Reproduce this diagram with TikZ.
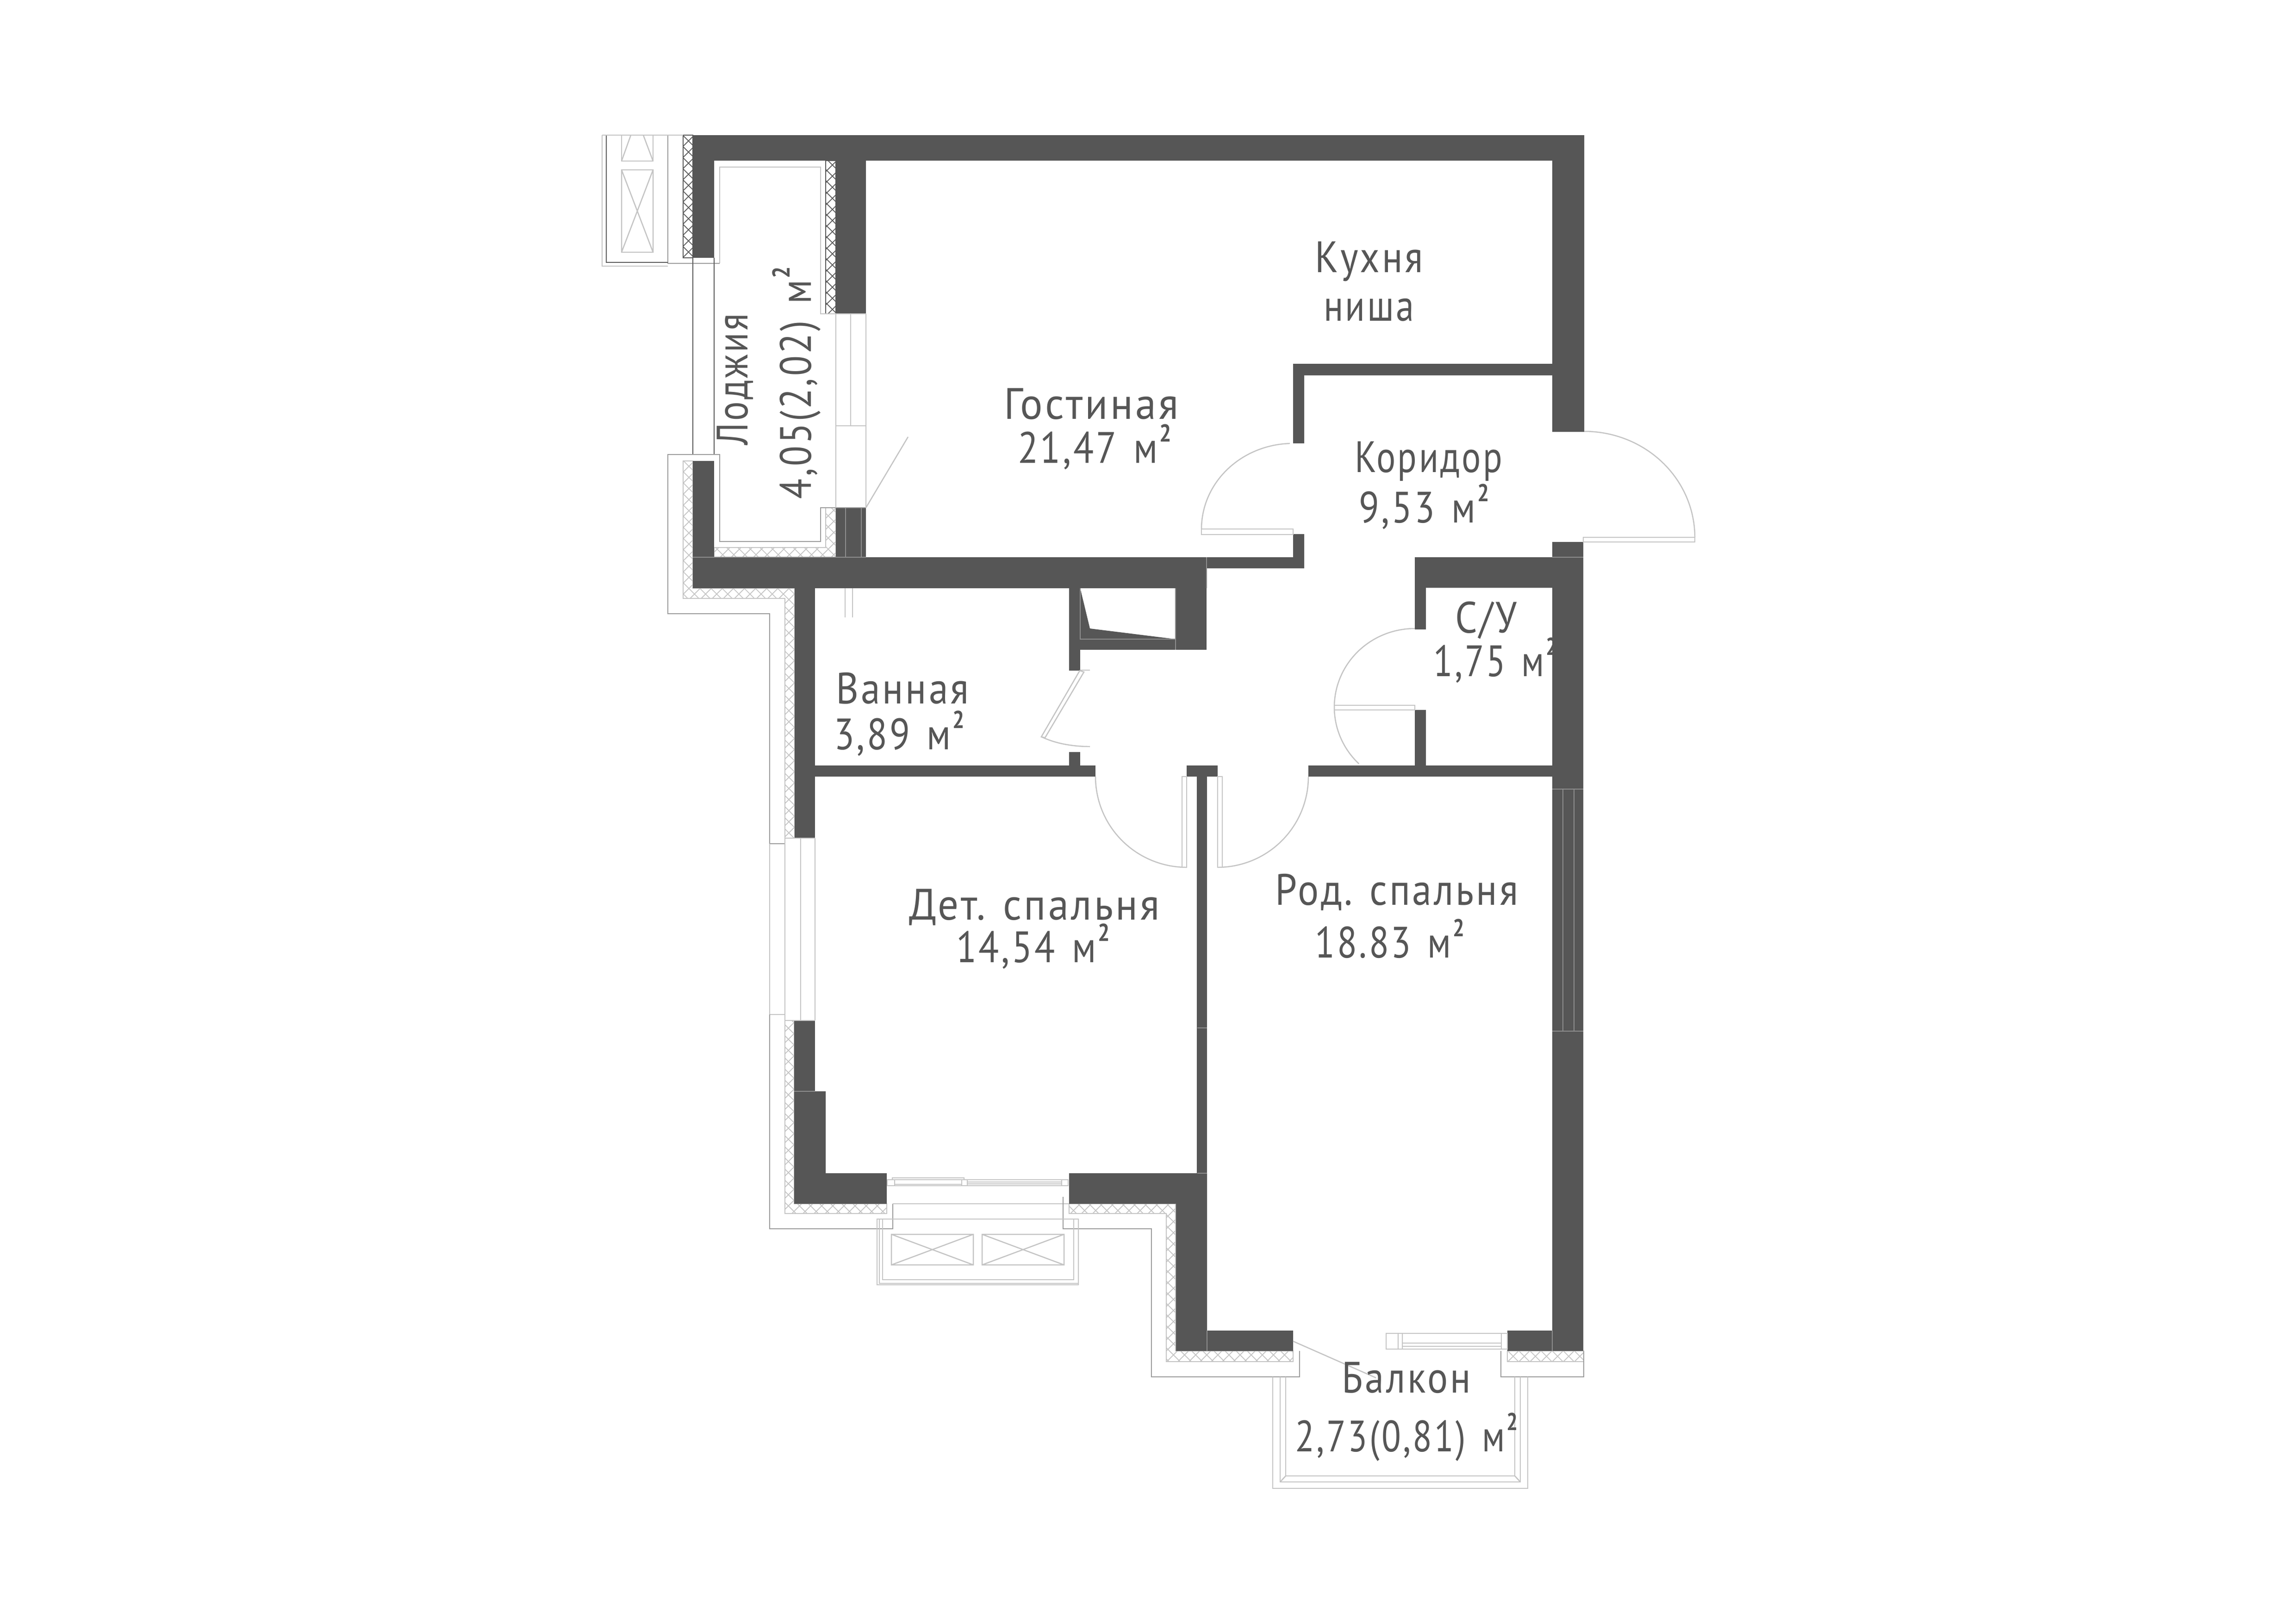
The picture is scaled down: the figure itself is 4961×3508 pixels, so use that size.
\documentclass[tikz,border=0pt]{standalone}
\usepackage{graphicx}
\usepackage{fontspec}
\setmainfont{PT Sans}[FakeStretch=0.88,LetterSpace=5]
\definecolor{wallc}{HTML}{565656}
\definecolor{seam}{HTML}{8E8E8E}
\definecolor{lite}{HTML}{C4C4C4}
\definecolor{midg}{HTML}{9A9A9A}
\definecolor{darkl}{HTML}{5A5A5A}
\tikzset{
  wall/.style={fill=wallc,draw=none},
  seamline/.style={draw=seam,line width=0.6pt},
  lite line/.style={draw=lite,line width=0.7pt},
  mid line/.style={draw=midg,line width=0.8pt},
  dark line/.style={draw=darkl,line width=0.8pt},
  lbl/.style={anchor=base,inner sep=0pt,text=wallc,font=\fontsize{27}{29}\selectfont},
}
\newcommand\msq{\hspace{0.4em}м\hspace{0.04em}\raisebox{13pt}{\fontsize{15}{15}\selectfont\bfseries 2}}
\newcommand\fitw[2]{\resizebox{#1\dimexpr 0.01cm\relax}{\height}{#2}}
\newcommand\hatchfill[6]{%
  \begin{scope}
    \clip #6;
    \pgfmathtruncatemacro\hs{#2-(#5-#3)}
    \pgfmathtruncatemacro\hn{\hs+24}
    \foreach \i in {\hs,\hn,...,#4}{
      \draw[#1,line width=0.5pt] (\i,#3)--({\i+#5-#3},#5);
      \draw[#1,line width=0.5pt] ({\i+#5-#3},#3)--(\i,#5);
    }
  \end{scope}
  \draw[#1,line width=0.6pt] #6;
}
\newcommand\crossbox[4]{%
  \draw[lite line] (#1,#2) rectangle (#3,#4) (#1,#2)--(#3,#4) (#1,#4)--(#3,#2);
}
\newcommand\doorarc[6]{%
  \draw[lite line] plot[domain=#5:#6,samples=40,smooth] ({#1+#3*cos(\x)},{#2+#4*sin(\x)});
}
\begin{document}
\begin{tikzpicture}[x=0.01cm,y=-0.01cm]
\useasboundingbox (0,0) rectangle (4961,3508);
\fill[white] (0,0) rectangle (4961,3508);

% ---- hatching (insulation)
\hatchfill{darkl}{1476}{292}{1497}{557}{(1476,292)--(1497,292)--(1497,557)--(1476,557)--cycle}
\hatchfill{darkl}{1784}{347}{1806}{678}{(1784,347)--(1806,347)--(1806,678)--(1784,678)--cycle}
\hatchfill{lite}{1476}{996}{1717}{1811}{(1476,996)--(1497,996)--(1497,1271)--(1717,1271)--(1717,1811)--(1696,1811)--(1696,1293)--(1476,1293)--cycle}
\hatchfill{lite}{1543}{1097}{1806}{1204}{(1543,1183)--(1784,1183)--(1784,1097)--(1806,1097)--(1806,1204)--(1543,1204)--cycle}
\hatchfill{lite}{1696}{2205}{1916}{2622}{(1696,2205)--(1716,2205)--(1716,2601)--(1916,2601)--(1916,2622)--(1696,2622)--cycle}
\hatchfill{lite}{2310}{2601}{2794}{2942}{(2310,2601)--(2540,2601)--(2540,2919)--(2794,2919)--(2794,2942)--(2520,2942)--(2520,2622)--(2310,2622)--cycle}
\hatchfill{lite}{3257}{2919}{3422}{2942}{(3257,2919)--(3422,2919)--(3422,2942)--(3257,2942)--cycle}

% ---- walls
\fill[wall] (1497,292)--(3423,292)--(3423,933)--(3354,933)--(3354,347)--(1871,347)--(1871,678)--(1806,678)--(1806,347)--(1543,347)--(1543,557)--(1497,557)--cycle;
\fill[wall] (2794,786) rectangle (3354,811);
\fill[wall] (2794,811) rectangle (2818,958);
\fill[wall] (2794,1154) rectangle (2818,1228);
\fill[wall] (2607,1204) rectangle (2818,1228);
\fill[wall] (1497,1204) rectangle (2607,1271);
\fill[wall] (1497,996) rectangle (1543,1204);
\fill[wall] (1806,1097) rectangle (1871,1204);
\fill[wall] (1717,1271) rectangle (1761,1811);
\fill[wall] (2540,1271) rectangle (2607,1404);
\fill[wall] (2310,1271) rectangle (2334,1449);
\fill[wall] (2310,1381) rectangle (2540,1404);
\fill[wall] (2334,1271)--(2355,1358)--(2540,1381)--(2334,1381)--cycle;
\fill[wall] (2310,1625) rectangle (2334,1655);
\fill[wall] (1761,1654) rectangle (2367,1678);
\fill[wall] (2564,1654) rectangle (2631,1678);
\fill[wall] (2586,1678) rectangle (2608,2535);
\fill[wall] (2827,1654) rectangle (3354,1678);
\fill[wall] (3354,1171) rectangle (3421,1204);
\fill[wall] (3057,1204) rectangle (3421,1270);
\fill[wall] (3354,1270) rectangle (3421,2919);
\fill[wall] (3057,1270) rectangle (3081,1360);
\fill[wall] (3057,1534) rectangle (3081,1654);
\fill[wall] (1716,2205) rectangle (1761,2358);
\fill[wall] (1716,2358)--(1784,2358)--(1784,2535)--(1916,2535)--(1916,2601)--(1716,2601)--cycle;
\fill[wall] (2310,2535)--(2608,2535)--(2608,2875)--(2794,2875)--(2794,2919)--(2541,2919)--(2541,2601)--(2310,2601)--cycle;
\fill[wall] (3257,2875) rectangle (3354,2919);

% ---- seams on the walls
\draw[seamline] (1827,1097)--(1827,1204) (1861,1097)--(1861,1204);
\draw[seamline] (1497,1204)--(1871,1204);
\draw[seamline] (2334,1271)--(2334,1381)--(2540,1381)--(2540,1404);
\draw[seamline] (2540,1271)--(2540,1381) (2607,1204)--(2607,1271);
\draw[seamline] (3377,1705)--(3377,2228) (3401,1705)--(3401,2228) (3354,1705)--(3421,1705) (3354,2228)--(3421,2228);
\draw[seamline] (3354,1204)--(3421,1204) (2587,2221)--(2608,2221) (2587,2535)--(2608,2535);
\draw[seamline] (1716,2358)--(1761,2358) (2608,2875)--(2608,2919) (3354,2875)--(3354,2919);

% ---- loggia
\draw[lite line] (1555,569)--(1555,361)--(1773,361)--(1773,678)--(1806,678);
\draw[mid line] (1443,292)--(1443,569)--(1555,569);
\draw[dark line] (1497,557)--(1497,982) (1543,557)--(1543,982);
\draw[mid line] (1443,1327)--(1443,982)--(1555,982)--(1555,1170)--(1773,1170)--(1773,1097)--(1871,1097);
\draw[lite line] (1806,678)--(1806,1097) (1871,678)--(1871,1097) (1838,678)--(1838,920) (1806,920)--(1871,920) (1806,678)--(1871,678);
\draw[lite line] (1871,1097)--(1962,944);

% ---- box at the top left
\draw[lite line] (1301,292)--(1301,575)--(1443,575);
\draw[dark line] (1310,292)--(1310,567)--(1443,567);
\draw[lite line] (1301,292)--(1476,292);
\draw[lite line] (1343,292)--(1343,348)--(1411,348)--(1411,292);
\draw[lite line] (1343,348)--(1363,292) (1411,348)--(1390,292);
\crossbox{1343}{367}{1411}{545}

% ---- outer line left
\draw[mid line] (1443,1326)--(1663,1326)--(1663,1823)--(1696,1823);
\draw[lite line] (1826,1271)--(1826,1334) (1842,1271)--(1842,1334);
% left window
\draw[lite line] (1663,1823)--(1663,2192) (1696,1811)--(1696,2205) (1730,1811)--(1730,2205) (1761,1811)--(1761,2205) (1696,1811)--(1761,1811) (1696,2205)--(1761,2205) (1663,2192)--(1696,2192);
\draw[mid line] (1663,2192)--(1663,2655)--(1929,2655)--(1929,2601);
\draw[lite line] (1929,2601)--(2310,2601);
\draw[mid line] (2297,2586)--(2297,2655)--(2488,2655)--(2488,2975)--(2808,2975)--(2808,2919);
\draw[mid line] (3243,2919)--(3243,2975)--(3422,2975)--(3422,2919);

% ---- child-room balcony door
\draw[lite line] (1917,2549) rectangle (2308,2562);
\draw[lite line] (1928,2549)--(1928,2545)--(2083,2545)--(2083,2549);
\draw[lite line] (1933,2549)--(1933,2562) (2078,2549)--(2078,2562) (2090,2549)--(2090,2562) (2294,2549)--(2294,2562);
\draw[lite line] (1933,2559)--(2078,2559) (2090,2554)--(2294,2554) (2090,2558)--(2294,2558);
% small balcony
\draw[lite line] (1895,2776)--(1895,2634)--(2330,2634)--(2330,2776)--cycle;
\draw[lite line] (1900,2634)--(1900,2773)--(2330,2773);
\draw[lite line] (1907,2634)--(1907,2765)--(2320,2765)--(2320,2634);
\crossbox{1926}{2667}{2103}{2733}
\crossbox{2122}{2667}{2299}{2733}

% ---- big balcony
\draw[lite line] (2750,2975)--(2750,3216)--(3301,3216)--(3301,2975);
\draw[lite line] (2766,2975)--(2766,3202)--(3285,3202)--(3285,2975);
\draw[lite line] (2778,2975)--(2778,3189)--(3273,3189)--(3273,2975);
\draw[lite line] (2766,3202)--(2778,3189) (3285,3202)--(3273,3189);
\draw[lite line] (2794,2898)--(2973,2977);
% bedroom balcony door
\draw[lite line] (2995,2881) rectangle (3257,2915);
\draw[lite line] (3030,2881)--(3030,2915) (3021,2881)--(3021,2915) (3244,2881)--(3244,2915);
\draw[lite line] (3030,2902)--(3244,2902) (3030,2909)--(3244,2909);

% ---- doors
\draw[lite line] (2596,1143) rectangle (2794,1155);
\doorarc{2794}{1143}{198}{185}{180}{268}
\draw[lite line] (3421,1161) rectangle (3662,1171);
\doorarc{3423}{1161}{239}{229}{-90}{0}
\draw[lite line] (2883,1524) rectangle (3057,1534);
\doorarc{3057}{1528}{174}{170}{134}{270}
\draw[lite line] (2333,1449)--(2342,1452)--(2258,1594)--(2250,1592)--cycle;
\draw[lite line] (2250,1592) .. controls (2280,1606) and (2315,1613) .. (2355,1613);
\draw[lite line] (2334,1448)--(2355,1448);
\draw[lite line] (2554,1678) rectangle (2564,1874);
\doorarc{2564}{1678}{197}{196}{90}{180}
\draw[lite line] (2631,1678) rectangle (2641,1874);
\doorarc{2631}{1678}{196}{196}{0}{90}

% ---- labels
\node[lbl] (kuhnya) at (2958,588) {\fitw{234}{Кухня}};
\node[lbl] (nisha) at (2958,693) {\fitw{196}{ниша}};
\node[lbl] (gost) at (2358,905) {\fitw{377}{Гостиная}};
\node[lbl] (gostA) at (2365,1000) {\fitw{332}{21,47\msq}};
\node[lbl] (korid) at (3087,1020) {\fitw{319}{Коридор}};
\node[lbl] (koridA) at (3077,1129) {\fitw{281}{9,53\msq}};
\node[lbl] (su) at (3211,1367) {\fitw{133}{С/У}};
\node[lbl] (suA) at (3231,1461) {\fitw{267}{1,75\msq}};
\node[lbl] (vann) at (1950,1520) {\fitw{287}{Ванная}};
\node[lbl] (vannA) at (1943,1619) {\fitw{282}{3,89\msq}};
\node[lbl] (det) at (2235,1987) {\fitw{541}{Дет. спальня}};
\node[lbl] (detA) at (2232,2079) {\fitw{332}{14,54\msq}};
\node[lbl] (rod) at (3018,1955) {\fitw{525}{Род. спальня}};
\node[lbl] (rodA) at (3003,2069) {\fitw{323}{18.83\msq}};
\node[lbl] (balk) at (3039,3009) {\fitw{279}{Балкон}};
\node[lbl] (balkA) at (3039,3136) {\fitw{481}{2,73(0,81)\msq}};
\node[lbl,rotate=90] (lodzh) at (1615,820) {\fitw{284}{Лоджия}};
\node[lbl,rotate=90] (lodzhA) at (1752,827) {\fitw{502}{4,05(2,02)\msq}};
\end{tikzpicture}
\end{document}
